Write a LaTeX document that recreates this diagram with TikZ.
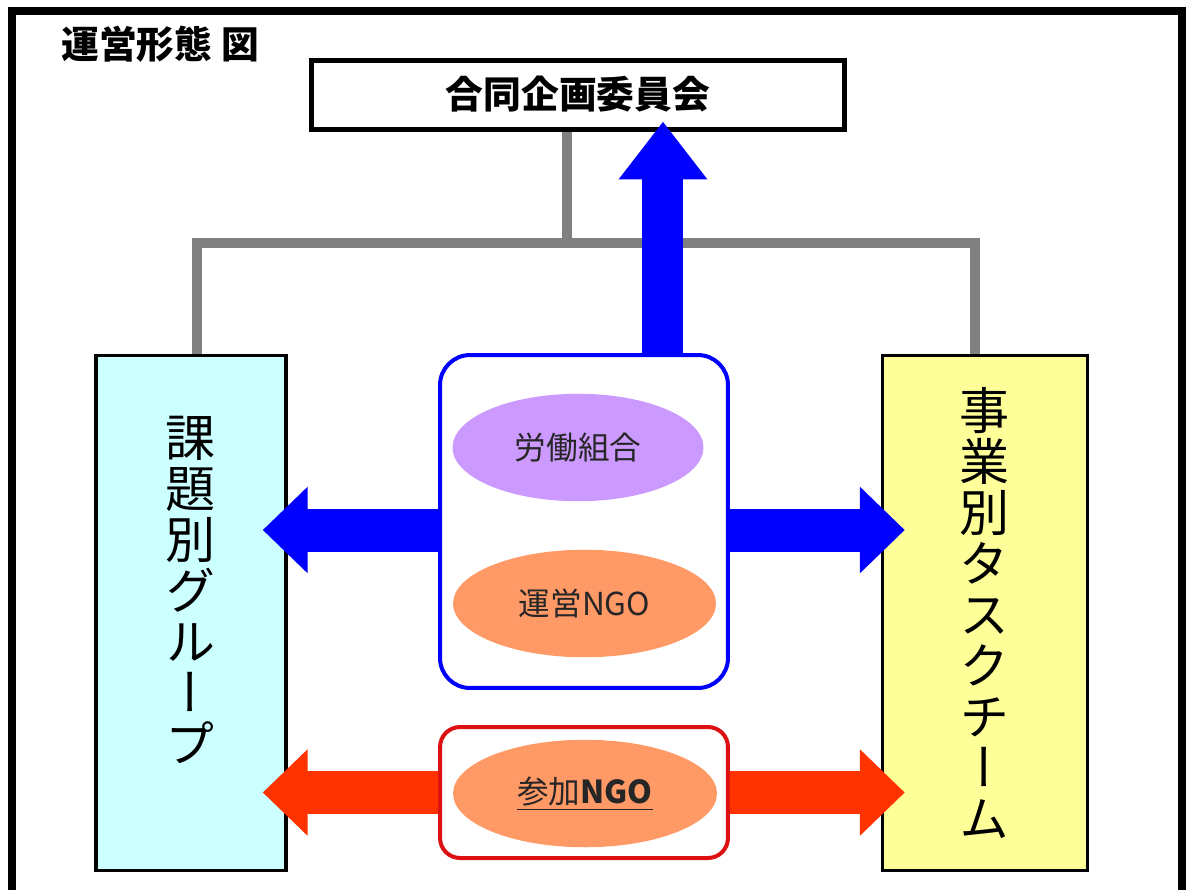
\documentclass[tikz,border=0pt]{standalone}
\usepackage{fontspec}
\setmainfont{Noto Sans CJK JP}
\newfontfamily\tatefont[RawFeature=+vert]{Noto Sans CJK JP}
\usetikzlibrary{arrows.meta,shapes.geometric}
\definecolor{themecyan}{HTML}{CCFFFF}
\definecolor{teamyellow}{HTML}{FFFF99}
\definecolor{unionlilac}{HTML}{CC99FF}
\definecolor{ngosalmon}{HTML}{FF9966}
\definecolor{arrowred}{HTML}{FF3300}
\definecolor{boxred}{HTML}{DD1111}
\definecolor{linkgray}{HTML}{808080}
% one character a line, fixed pitch
\newcommand\tatetext[1]{\vbox{\lineskiplimit=-\maxdimen\let\\\cr\halign{\hfil##\hfil\cr#1\crcr}}}
\begin{document}
\begin{tikzpicture}[x=0.02cm,y=-0.02cm,
  sidebox/.style={draw=black,line width=0.07cm,minimum height=10.3cm,inner sep=0pt},
  tate/.style={inner sep=0pt,font=\tatefont\fontsize{28.5}{29}\selectfont},
  hubbox/.style={draw,fill=white,line width=0.08cm,minimum width=5.76cm},
  blob/.style={ellipse,inner sep=0pt,minimum height=2.15cm,text=black!85,
    font=\fontsize{18}{20}\selectfont},
  link/.style={draw=linkgray,line width=0.21cm},
  fatarrow/.style={line width=0.86cm,-{Triangle[length=0.9cm,width=1.68cm]}}]
\useasboundingbox (0,0) rectangle (1186,890);

% outer frame, open at the bottom
\draw[line width=0.16cm] (12,890) -- (12,11) -- (1182,11) -- (1182,890);

\node[anchor=west,inner sep=0pt,font=\bfseries\fontsize{21.5}{24}\selectfont] (title) at (61,44) {運営形態 図};
\node[draw,line width=0.1cm,minimum width=10.68cm,minimum height=1.38cm,
  font=\bfseries\fontsize{21.5}{24}\selectfont] (committee) at (578,94.5) {合同企画委員会};

\node[sidebox,fill=themecyan,minimum width=3.8cm,
  label={[tate,name=themestext,yshift=0.46cm]center:\tatetext{課\\題\\別\\グ\\ル\\ー\\プ}}] (themes) at (191,613) {};
\node[sidebox,fill=teamyellow,minimum width=4.1cm,
  label={[tate,name=teamstext]center:\tatetext{事\\業\\別\\タ\\ス\\ク\\チ\\ー\\ム}}] (teams) at (985,613) {};

\node[hubbox,draw=blue,rounded corners=0.6cm,minimum height=6.66cm] (hub) at (584,521.5) {};
\node[hubbox,draw=boxred,rounded corners=0.4cm,minimum height=2.62cm] (guestbox) at (584,792.5) {};

\node[blob,fill=unionlilac,minimum width=5.02cm] (union) at (578,447.5) {労働組合};
\node[blob,fill=ngosalmon,minimum width=5.26cm] (core) at (584.5,603.5) {運営NGO};
\node[blob,fill=ngosalmon,minimum width=5.28cm] (guest) at (585,793.5) {\underline{参加\textbf{NGO}}};

% grey tree
\coordinate (joint) at (567,243);
\draw[link] (joint |- committee.south) -- (joint);
\draw[link] ([xshift=0.12cm]themes.north) |- (joint) -| ([xshift=-0.2cm]teams.north);

% fat arrows
\coordinate (upfoot) at ([xshift=1.58cm]hub.north);
\draw[blue,line width=0.82cm,-{Triangle[length=1.16cm,width=1.7cm]},shorten >=-0.2cm]
  (upfoot) -- (upfoot |- committee.south);
\coordinate (bluerow) at ([yshift=-0.17cm]hub.west);
\draw[fatarrow,blue,shorten >=-0.5cm] (bluerow) -- (bluerow -| themes.east);
\draw[fatarrow,blue,shorten >=-0.48cm] (bluerow -| hub.east) -- (bluerow -| teams.west);
\draw[fatarrow,arrowred,shorten >=-0.5cm] (guestbox.west) -- (guestbox.west -| themes.east);
\draw[fatarrow,arrowred,shorten >=-0.48cm] (guestbox.east) -- (guestbox.east -| teams.west);
\end{tikzpicture}
\end{document}
